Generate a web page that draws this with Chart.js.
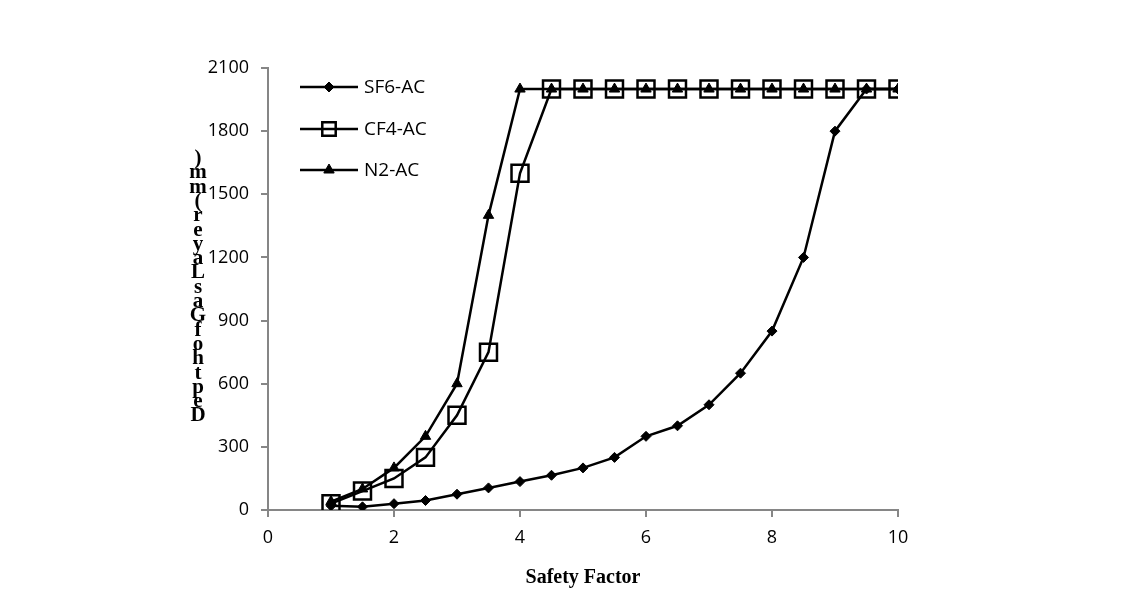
<!DOCTYPE html>
<html>
<head>
<meta charset="utf-8">
<script src="https://cdn.jsdelivr.net/npm/chart.js@4.4.1/dist/chart.umd.min.js"></script>
<style>
  html, body { margin: 0; padding: 0; background: #fff; }
  #wrap { width: 1146px; height: 604px; position: relative; }
</style>
</head>
<body>
<div id="wrap"><canvas id="chartCanvas" width="1146" height="604"></canvas></div>
<script>
// safety factor values (x)
const safetyFactor = [1, 1.5, 2, 2.5, 3, 3.5, 4, 4.5, 5, 5.5, 6, 6.5, 7, 7.5, 8, 8.5, 9, 9.5, 10];
// depth of gas layer (mm)
const sf6Depth = [20, 15, 30, 45, 75, 105, 135, 165, 200, 250, 350, 400, 500, 650, 850, 1200, 1800, 2000, 2000];
const cf4Depth = [30, 90, 150, 250, 450, 750, 1600, 2000, 2000, 2000, 2000, 2000, 2000, 2000, 2000, 2000, 2000, 2000, 2000];
const n2Depth  = [40, 100, 200, 350, 600, 1400, 2000, 2000, 2000, 2000, 2000, 2000, 2000, 2000, 2000, 2000, 2000, 2000, 2000];
const seriesNames = ["SF6-AC", "CF4-AC", "N2-AC"];
const yTitle = "Depth of Gas Layer (mm)";
const xTitle = "Safety Factor";

const toPts = arr => arr.map((v, i) => ({ x: safetyFactor[i], y: v }));
const axisGray = "#868686";

// legend drawn like the office-style one: line with marker in the middle
const legendPlugin = {
  id: "lineLegend",
  afterDraw(chart) {
    const ctx = chart.ctx;
    const rows = [87, 129, 170];
    const legendRadius = [5, 9.5, 6];
    chart.data.datasets.forEach((ds, i) => {
      const y = rows[i];
      ctx.save();
      ctx.strokeStyle = "#000";
      ctx.lineWidth = 2.5;
      ctx.beginPath();
      ctx.moveTo(300, y);
      ctx.lineTo(358, y);
      ctx.stroke();
      ctx.fillStyle = ds.pointBackgroundColor;
      ctx.strokeStyle = "#000";
      ctx.lineWidth = ds.pointBorderWidth;
      Chart.helpers.drawPoint(ctx, {
        pointStyle: ds.pointStyle,
        radius: legendRadius[i],
        borderWidth: ds.pointBorderWidth
      }, 329, y);
      ctx.fillStyle = "#000";
      ctx.font = "19px 'Open Sans'";
      ctx.textBaseline = "middle";
      ctx.fillText(ds.label, 364, y + 1);
      ctx.restore();
    });
  }
};

// y title: upright letters stacked from bottom to top
const stackedTitle = {
  id: "stackedTitle",
  afterDraw(chart) {
    const ctx = chart.ctx;
    const chars = yTitle.replace(/ /g, "").split("");
    ctx.save();
    ctx.fillStyle = "#000";
    ctx.font = "bold 21px 'Liberation Serif'";
    ctx.textAlign = "center";
    ctx.textBaseline = "middle";
    chars.forEach((c, i) => {
      ctx.fillText(c, 198, 416 - i * 14.3);
    });
    ctx.restore();
  }
};

const ctx = document.getElementById("chartCanvas").getContext("2d");
new Chart(ctx, {
  type: "line",
  data: {
    datasets: [
      {
        label: seriesNames[0], data: toPts(sf6Depth),
        borderColor: "#000", borderWidth: 2.5, pointStyle: "rectRot", pointRadius: 5,
        pointBackgroundColor: "#000", pointBorderColor: "#000", pointBorderWidth: 1
      },
      {
        label: seriesNames[1], data: toPts(cf4Depth),
        borderColor: "#000", borderWidth: 2.5, pointStyle: "rect", pointRadius: 12,
        pointBackgroundColor: "rgba(255,255,255,0)", pointBorderColor: "#000", pointBorderWidth: 2.5
      },
      {
        label: seriesNames[2], data: toPts(n2Depth),
        borderColor: "#000", borderWidth: 2.5, pointStyle: "triangle", pointRadius: 6,
        pointBackgroundColor: "#000", pointBorderColor: "#000", pointBorderWidth: 1
      }
    ]
  },
  options: {
    responsive: false,
    animation: false,
    layout: { padding: { left: 178, right: 248, top: 68, bottom: 14 } },
    plugins: { legend: { display: false }, tooltip: { enabled: false } },
    scales: {
      x: {
        type: "linear", min: 0, max: 10,
        ticks: { stepSize: 2, color: "#000", font: { family: "'Open Sans'", size: 18 }, padding: 10 },
        grid: { drawOnChartArea: false, color: axisGray, tickLength: 7, lineWidth: 2 },
        border: { color: axisGray, width: 2 },
        title: { display: true, text: xTitle, color: "#000", font: { family: "'Liberation Serif'", size: 20, weight: "bold" }, padding: { top: 4, bottom: 0 } },
        afterFit(scale) { scale.height = 80; }
      },
      y: {
        min: 0, max: 2100,
        ticks: { stepSize: 300, color: "#000", font: { family: "'Open Sans'", size: 18 }, padding: 12,
          callback: v => String(v) },
        grid: { drawOnChartArea: false, color: axisGray, tickLength: 7, lineWidth: 2 },
        border: { color: axisGray, width: 2 },
        afterFit(scale) { scale.width = 90; }
      }
    }
  },
  plugins: [legendPlugin, stackedTitle]
});
</script>
</body>
</html>
